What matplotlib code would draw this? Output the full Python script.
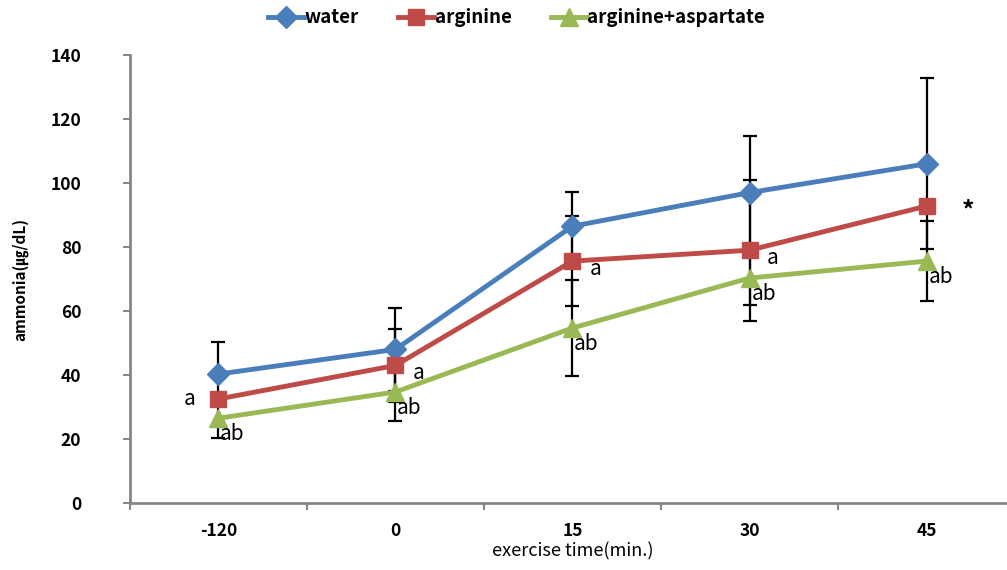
import matplotlib
matplotlib.use('Agg')
import matplotlib.pyplot as plt
import numpy as np

plt.rcParams['font.family'] = ['Noto Sans CJK KR', 'DejaVu Sans']

# data
time_labels = ['-120', '0', '15', '30', '45']
water = [40.3, 48.0, 86.5, 97.0, 106.0]
water_err = [10.1, 13.0, 10.8, 17.8, 26.7]
arginine = [32.5, 43.0, 75.6, 79.0, 92.8]
arginine_err = [2.0, 11.3, 14.0, 22.0, 2.0]
arg_asp = [26.5, 34.7, 54.7, 70.3, 75.6]
arg_asp_err = [6.2, 9.0, 15.0, 8.4, 12.5]

# significance letters
arg_marks = ['a', 'a', 'a', 'a', '*']
asp_marks = ['ab', 'ab', 'ab', 'ab', 'ab']

x = np.arange(len(time_labels))

fig = plt.figure(figsize=(10.07, 5.7), dpi=100)
ax = fig.add_axes([0.129, 0.1175, 0.879, 0.786])

series = [
    ('water', water, water_err, '#4A7EBB', 'D', 11),
    ('arginine', arginine, arginine_err, '#BE4B48', 's', 12),
    ('arginine+aspartate', arg_asp, arg_asp_err, '#98B954', '^', 13),
]

for name, y, err, col, mk, ms in series:
    ax.errorbar(x, y, yerr=err, fmt='none', ecolor='black', elinewidth=1.6,
                capsize=5, capthick=1.6, zorder=2)
for name, y, err, col, mk, ms in series:
    ax.plot(x, y, color=col, lw=3.5, marker=mk, markersize=ms,
            markeredgecolor=col, label=name, zorder=3)

# letters near the arginine and arginine+aspartate points
for i in range(len(x)):
    if i == 0:
        ax.text(x[i] - 0.13, arginine[i], arg_marks[i], fontsize=15,
                ha='right', va='center')
    elif arg_marks[i] == '*':
        ax.text(x[i] + 0.2, arginine[i] - 1.5, arg_marks[i], fontsize=18,
                fontweight='bold', ha='left', va='center')
    else:
        ax.text(x[i] + 0.1, arginine[i] - 2.5, arg_marks[i], fontsize=15,
                ha='left', va='center')
    ax.text(x[i] + 0.01, arg_asp[i] - 5, asp_marks[i], fontsize=15,
            ha='left', va='center')

ax.set_xlim(-0.5, 4.5)
ax.set_ylim(0, 140)
ax.set_yticks(np.arange(0, 141, 20))
ax.set_xticks(x)
ax.set_xticklabels(time_labels)
ax.set_xticks(np.arange(-0.5, 4.6, 1), minor=True)
ax.tick_params(axis='x', which='major', length=0, pad=14, labelsize=12.5)
ax.tick_params(axis='x', which='minor', length=5, width=1.5, color='#868686')
ax.tick_params(axis='y', length=5, width=1.5, color='#868686', labelsize=12.5, pad=30)
for lab in ax.get_yticklabels() + ax.get_xticklabels():
    lab.set_fontweight('bold')

for s in ['top', 'right']:
    ax.spines[s].set_visible(False)
for s in ['left', 'bottom']:
    ax.spines[s].set_color('#868686')
    ax.spines[s].set_linewidth(2)

ax.set_xlabel('exercise time(min.)', fontsize=13, labelpad=1)
ax.set_ylabel('ammonia(㎍/dL)', fontsize=11, fontweight='bold', labelpad=16)

leg = fig.legend(loc='upper center', bbox_to_anchor=(0.513, 1.015), ncol=3,
                 frameon=False, handlelength=1.9, columnspacing=2.1,
                 handletextpad=0.05, prop={'weight': 'bold', 'size': 13.5})

fig.savefig('out.png', dpi=100)
